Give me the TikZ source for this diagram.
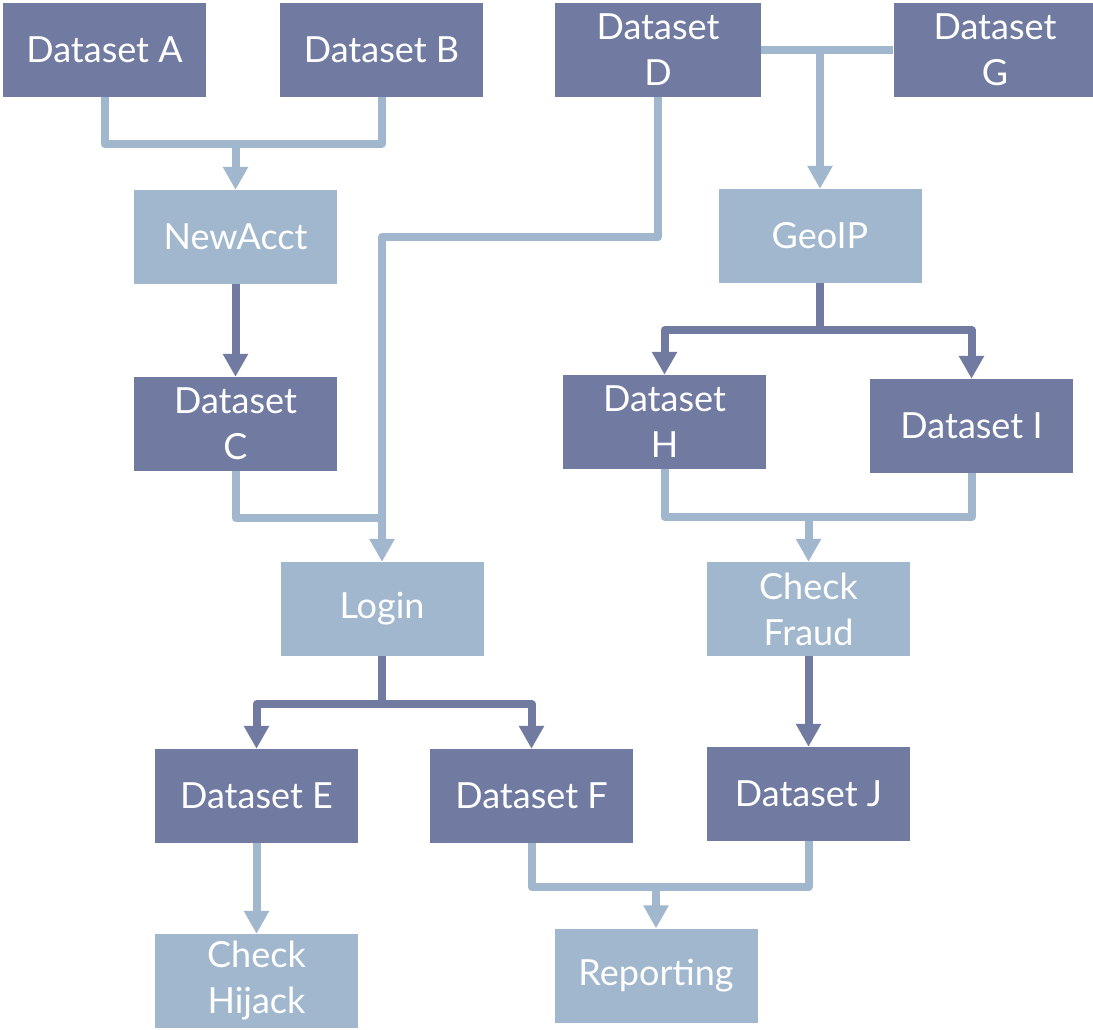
\documentclass[tikz,border=0pt]{standalone}
\usepackage{fontspec}
\setmainfont{Lato}
\usetikzlibrary{arrows.meta}
\definecolor{dkc}{RGB}{113,123,162}
\definecolor{ltc}{RGB}{161,183,205}
\tikzset{
  boxbase/.style={inner sep=0pt, minimum width=203pt, minimum height=94pt, text=white, align=center,
    font=\fontsize{36}{46}\selectfont},
  dkbox/.style={boxbase, fill=dkc},
  ltbox/.style={boxbase, fill=ltc},
  ltline/.style={draw=ltc, line width=8pt, line join=round},
  dkline/.style={draw=dkc, line width=8pt, line join=round},
  tip/.style={-{Triangle[width=24pt,length=23pt]}}
}
\begin{document}
\begin{tikzpicture}[x=1pt,y=-1pt]
\useasboundingbox (0,0) rectangle (1093,1029);
% nodes
\node[dkbox] (A) at (104.5,50) {Dataset A};
\node[dkbox] (B) at (381.5,50) {Dataset B};
\node[dkbox, minimum width=206pt] (D) at (658,50) {Dataset\\D};
\node[dkbox] (G) at (995,50) {Dataset\\G};
\node[ltbox] (NA) at (235.5,237) {NewAcct};
\node[ltbox] (Geo) at (820,236) {GeoIP};
\node[dkbox] (C) at (235.5,424) {Dataset\\C};
\node[dkbox] (H) at (664.5,422) {Dataset\\H};
\node[dkbox] (I) at (971.5,426) {Dataset I};
\node[ltbox] (Login) at (382,609) {Login};
\node[ltbox] (CF) at (808.5,609) {Check\\Fraud};
\node[dkbox] (E) at (256.5,796) {Dataset E};
\node[dkbox] (F) at (531.5,796) {Dataset F};
\node[dkbox] (J) at (808.5,794) {Dataset J};
\node[ltbox] (CH) at (256.5,981) {Check\\Hijack};
\node[ltbox] (Rep) at (656,975.5) {Reporting};
% junction coordinates
\coordinate (ab) at (235.5,144);
\coordinate (dl) at (382,237);
\coordinate (cl) at (382,518);
\coordinate (dg) at (820,50);
\coordinate (gh) at (820,330);
\coordinate (hi) at (808.5,517);
\coordinate (le) at (382,704);
\coordinate (fj) at (656,887);
% connectors
\draw[ltline] (A.south) |- (B.south |- ab) -- (B.south);
\draw[ltline, tip] (ab) -- (NA.north);
\draw[dkline, tip] (NA.south) -- (C.north);
\draw[ltline, tip] (D.south) |- (dl) -- (Login.north);
\draw[ltline] (C.south) |- (cl);
\draw[ltline] (D.east) -- (G.west);
\draw[ltline, tip] (dg) -- (Geo.north);
\draw[dkline] (Geo.south) -- (gh);
\draw[dkline, tip] (gh) -| (H.north);
\draw[dkline, tip] (gh) -| (I.north);
\draw[ltline] (H.south) |- (I.south |- hi) -- (I.south);
\draw[ltline, tip] (hi) -- (CF.north);
\draw[dkline, tip] (CF.south) -- (J.north);
\draw[dkline] (Login.south) -- (le);
\draw[dkline, tip] (le) -| (E.north);
\draw[dkline, tip] (le) -| (F.north);
\draw[ltline, tip] (E.south) -- (CH.north);
\draw[ltline] (F.south) |- (J.south |- fj) -- (J.south);
\draw[ltline, tip] (fj) -- (Rep.north);
\end{tikzpicture}
\end{document}
